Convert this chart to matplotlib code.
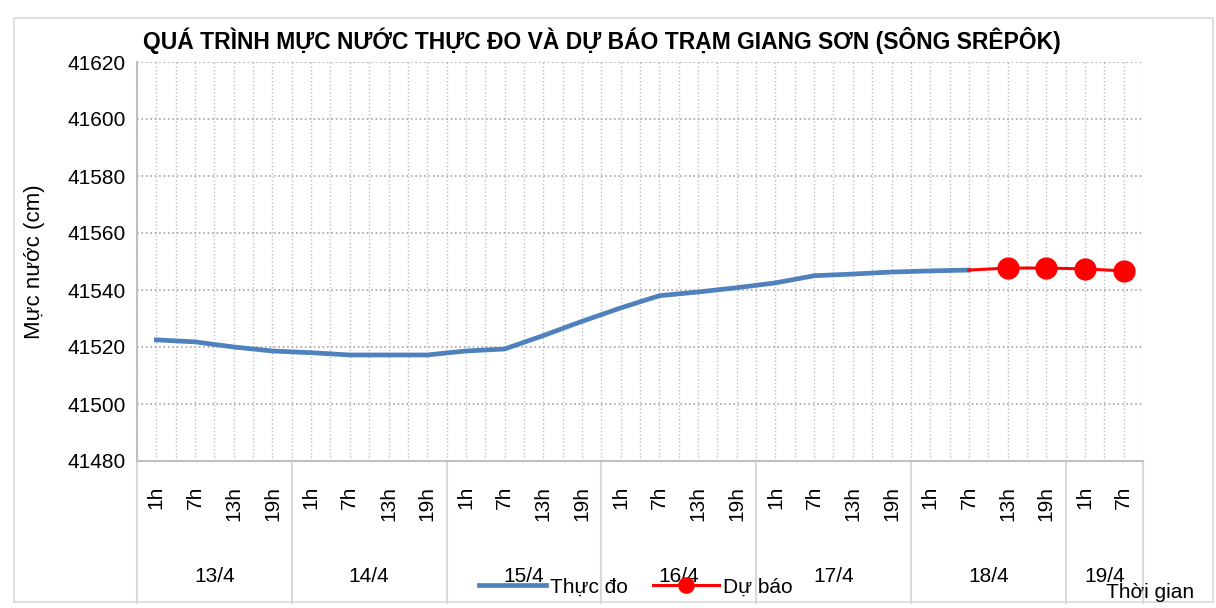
import matplotlib.pyplot as plt
from matplotlib.lines import Line2D
from matplotlib.patches import Rectangle

plt.rcParams['font.family'] = ['Liberation Sans Narrow', 'Liberation Sans', 'DejaVu Sans']

days = ['13/4', '14/4', '15/4', '16/4', '17/4', '18/4', '19/4']
hours_per_day = [['1h', '7h', '13h', '19h']] * 6 + [['1h', '7h']]

# observed water level, 13/4 1h .. 18/4 7h
observed = [41522.5, 41521.8, 41520.0, 41518.6,
            41518.0, 41517.2, 41517.2, 41517.2,
            41518.6, 41519.3, 41524.0, 41529.0,
            41533.7, 41538.0, 41539.3, 41540.8,
            41542.5, 41545.0, 41545.6, 41546.3,
            41546.7, 41547.0]
# forecast, 18/4 7h .. 19/4 7h (first point joins the observed line)
forecast = [41547.0, 41547.7, 41547.7, 41547.4, 41546.7]

hour_labels = [h for grp in hours_per_day for h in grp]
n = len(hour_labels)
x_obs = list(range(len(observed)))
x_fc = list(range(len(observed) - 1, n))

fig = plt.figure(figsize=(12.16, 6.08), dpi=100)
fig.patches.append(Rectangle((14 / 1216, 1 - 602 / 608), 1199 / 1216, 584 / 608,
                             transform=fig.transFigure, fill=False,
                             edgecolor='#d9d9d9', linewidth=1.2))

ax = fig.add_axes([137 / 1216, 1 - 461 / 608, 1006 / 1216, 399 / 608])

ax.plot(x_obs, observed, color='#4F81BD', linewidth=3.4, solid_joinstyle='round', zorder=3)
ax.plot(x_fc, forecast, color='#FF0000', linewidth=2.2, zorder=4)
ax.plot(x_fc[1:], forecast[1:], linestyle='none', marker='o', markersize=15,
        color='#FF0000', zorder=5)

ax.set_xlim(-0.5, n - 0.5)
ax.set_ylim(41480, 41620)
ax.set_yticks(range(41480, 41621, 20))
ax.tick_params(axis='y', labelsize=15, length=0, pad=8)

# gridlines at category centres and boundaries
ax.set_xticks(range(n))
ax.set_xticks([i - 0.5 for i in range(n + 1)], minor=True)
ax.tick_params(axis='x', which='both', length=0, labelbottom=False)
ax.grid(True, which='both', axis='x', color='#bfbfbf', linestyle=':', linewidth=1)
ax.grid(True, which='major', axis='y', color='#a6a6a6', linestyle=':', linewidth=1.2)

for s in ['top', 'right']:
    ax.spines[s].set_visible(False)
ax.spines['left'].set_color('#bfbfbf')
ax.spines['bottom'].set_color('#bfbfbf')
ax.spines['left'].set_linewidth(1.5)
ax.spines['bottom'].set_linewidth(1.5)

trans = ax.get_xaxis_transform()
for i, lab in enumerate(hour_labels):
    ax.text(i, -25 / 399, lab, rotation=90, ha='center', va='top', fontsize=15,
            transform=trans)

start = 0
bounds = [-0.5]
for d, grp in zip(days, hours_per_day):
    mid = start + (len(grp) - 1) / 2
    ax.text(mid, -116 / 399, d, ha='center', va='center', fontsize=15, transform=trans)
    start += len(grp)
    bounds.append(start - 0.5)
for b in bounds:
    ax.add_line(Line2D([b, b], [0, -142 / 399], transform=trans, color='#d9d9d9',
                       linewidth=1.5, clip_on=False))

ax.set_ylabel('Mực nước (cm)', fontsize=16, labelpad=16)
fig.text(602 / 1216, 1 - 40 / 608,
         'QUÁ TRÌNH MỰC NƯỚC THỰC ĐO VÀ DỰ BÁO TRẠM GIANG SƠN (SÔNG SRÊPÔK)',
         ha='center', va='center', fontsize=16.5, fontweight='bold')

handles = [Line2D([], [], color='#4F81BD', linewidth=3.4),
           Line2D([], [], color='#FF0000', linewidth=2.2, marker='o', markersize=11)]
fig.legend(handles, ['Thực đo', 'Dự báo'], loc='center', ncol=2, frameon=False,
           bbox_to_anchor=(636 / 1216, 1 - 587 / 608), fontsize=15,
           handlelength=3.2, handletextpad=0.2, columnspacing=1.2)
fig.text(1150 / 1216, 1 - 592 / 608, 'Thời gian', ha='center', va='center', fontsize=15)

fig.savefig('out.png', dpi=100)
